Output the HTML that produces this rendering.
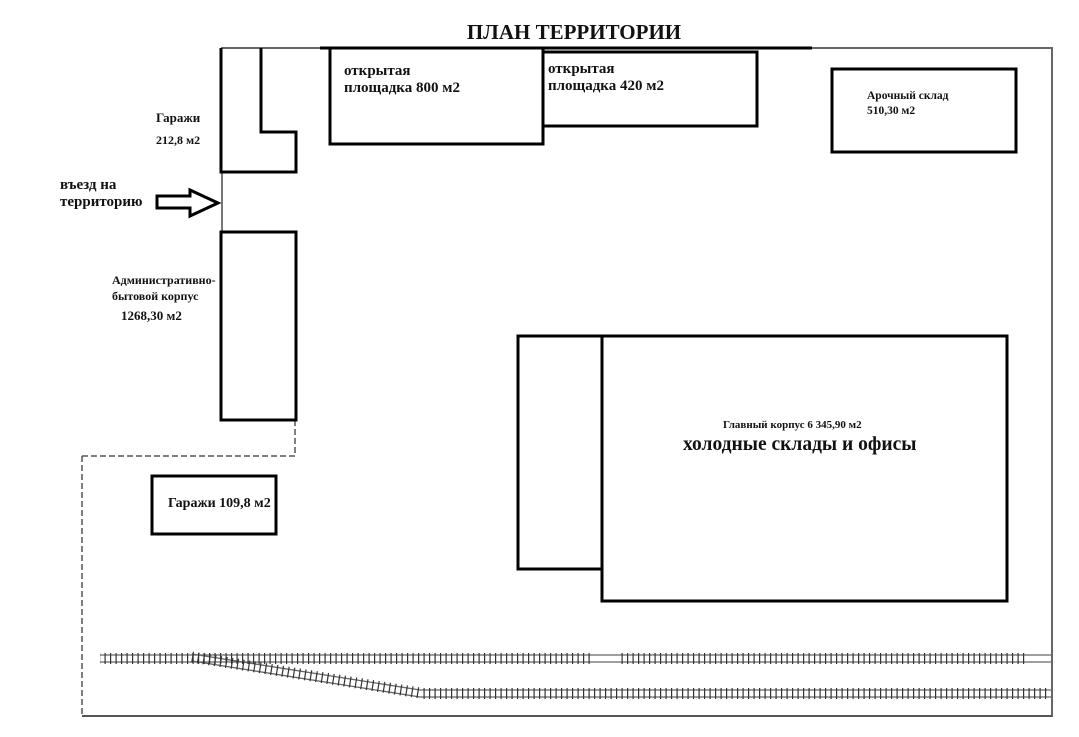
<!DOCTYPE html>
<html><head><meta charset="utf-8"><style>
body{margin:0;background:#fff;width:1079px;height:732px;overflow:hidden;}
svg text{font-family:"Liberation Serif",serif;font-weight:bold;fill:#111;}
</style></head><body>
<svg width="1079" height="732" viewBox="0 0 1079 732" xmlns="http://www.w3.org/2000/svg">
<defs>
<pattern id="ties" width="5.5" height="10" patternUnits="userSpaceOnUse"><rect x="0" y="0" width="1.2" height="10" fill="#333"/></pattern>
</defs>
<text x="574" y="39" font-size="21" text-anchor="middle">ПЛАН ТЕРРИТОРИИ</text>
<g fill="none">
<line x1="221" y1="48" x2="1052" y2="48" stroke="#666" stroke-width="2"/>
<line x1="320" y1="48" x2="812" y2="48" stroke="#000" stroke-width="3"/>
<line x1="1052" y1="47" x2="1052" y2="717" stroke="#666" stroke-width="2"/>
<line x1="82" y1="716" x2="1052" y2="716" stroke="#555" stroke-width="2"/>
<line x1="82" y1="456" x2="82" y2="716" stroke="#555" stroke-width="1.5" stroke-dasharray="6,3"/>
<line x1="82" y1="456" x2="295" y2="456" stroke="#555" stroke-width="1.5" stroke-dasharray="6,3"/>
<line x1="295" y1="420" x2="295" y2="456" stroke="#555" stroke-width="1.5" stroke-dasharray="6,3"/>
<line x1="222" y1="172" x2="222" y2="232" stroke="#777" stroke-width="2"/>
</g>
<g fill="none" stroke="#000" stroke-width="3">
<polyline points="261,48 261,132 296,132 296,172 221,172 221,48"/>
<rect x="330" y="48" width="213" height="96"/>
<rect x="543" y="52" width="214" height="74"/>
<rect x="832" y="69" width="184" height="83"/>
<rect x="221" y="232" width="75" height="188"/>
<rect x="152" y="476" width="124" height="58"/>
<rect x="518" y="336" width="84" height="233"/>
<rect x="602" y="336" width="405" height="265"/>
<polygon points="157,196 190,196 190,190 218,203 190,216 190,208 157,208"/>
</g>
<g stroke="#666" stroke-width="1.3">
<line x1="100" y1="655" x2="1052" y2="655"/>
<line x1="100" y1="662" x2="1052" y2="662"/>
<line x1="420" y1="690" x2="1052" y2="690"/>
<line x1="420" y1="697" x2="1052" y2="697"/>
<line x1="192" y1="654" x2="420" y2="690"/>
<line x1="192" y1="661" x2="420" y2="697"/>
</g>
<rect x="100" y="653" width="490" height="11" fill="url(#ties)"/>
<rect x="620" y="653" width="408" height="11" fill="url(#ties)"/>
<rect x="420" y="688" width="630" height="11" fill="url(#ties)"/>
<line x1="192" y1="657" x2="420" y2="693" stroke="#333" stroke-width="11" stroke-dasharray="1.2,4.5"/>
<text x="156" y="122" font-size="13">Гаражи</text>
<text x="156" y="144" font-size="12">212,8 м2</text>
<text x="60" y="189" font-size="15">въезд на</text>
<text x="60" y="206" font-size="15">территорию</text>
<text x="112" y="284" font-size="12">Административно-</text>
<text x="112" y="300" font-size="12">бытовой корпус</text>
<text x="121" y="320" font-size="13">1268,30 м2</text>
<text x="344" y="75" font-size="15">открытая</text>
<text x="344" y="92" font-size="15">площадка 800 м2</text>
<text x="548" y="73" font-size="15">открытая</text>
<text x="548" y="90" font-size="15">площадка 420 м2</text>
<text x="867" y="99" font-size="11.5">Арочный склад</text>
<text x="867" y="114" font-size="11.5">510,30 м2</text>
<text x="723" y="428" font-size="11">Главный корпус 6 345,90 м2</text>
<text x="683" y="450" font-size="19.5">холодные склады и офисы</text>
<text x="168" y="507" font-size="14">Гаражи 109,8 м2</text>
</svg>
</body></html>
